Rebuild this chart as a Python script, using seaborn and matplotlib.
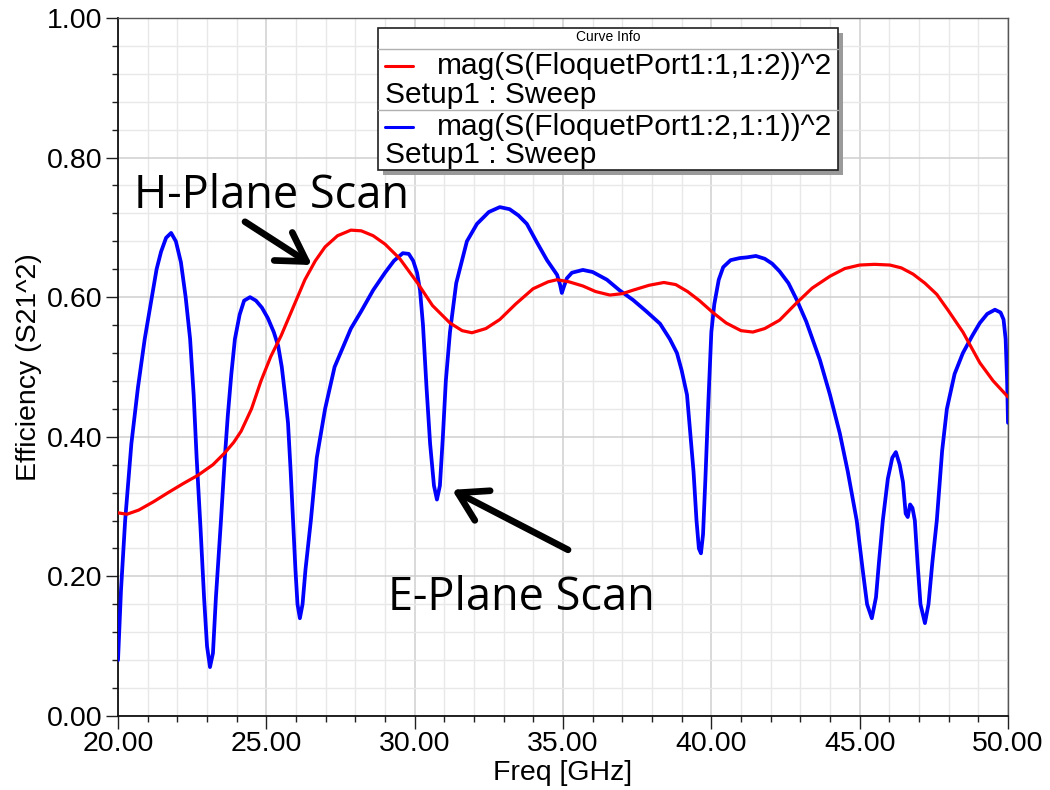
import numpy as np
import pandas as pd
import seaborn as sns
import matplotlib
matplotlib.use("Agg")
import matplotlib.pyplot as plt
from matplotlib.patches import Rectangle
from matplotlib.lines import Line2D
from matplotlib.ticker import MultipleLocator, FormatStrFormatter
import matplotlib.transforms as mtransforms

# E-plane scan: |S(FloquetPort1:2,1:1)|^2 versus frequency
e_freq = [20.00, 20.10, 20.24, 20.45, 20.67, 20.90, 21.10, 21.30, 21.45, 21.62,
          21.79, 21.95, 22.12, 22.28, 22.43, 22.55, 22.65, 22.78, 22.90, 23.00,
          23.10, 23.20, 23.30, 23.47, 23.60, 23.70, 23.82, 23.94, 24.10, 24.25,
          24.45, 24.65, 24.85, 25.05, 25.25, 25.40, 25.52, 25.63, 25.73, 25.82,
          25.90, 25.98, 26.05, 26.13, 26.22, 26.32, 26.50, 26.70, 26.98, 27.30,
          27.60, 27.85, 28.20, 28.60, 29.00, 29.30, 29.60, 29.80, 29.95, 30.08,
          30.18, 30.28, 30.40, 30.52, 30.65, 30.75, 30.85, 30.95, 31.05, 31.19,
          31.40, 31.76, 32.10, 32.50, 32.87, 33.20, 33.50, 33.78, 34.10, 34.46,
          34.80, 34.90, 34.96, 35.03, 35.13, 35.30, 35.67, 36.00, 36.48, 36.90,
          37.36, 37.80, 38.27, 38.60, 38.84, 39.00, 39.18, 39.30, 39.40, 39.50,
          39.58, 39.65, 39.72, 39.80, 39.90, 40.00, 40.10, 40.25, 40.40, 40.65,
          40.96, 41.20, 41.50, 41.80, 42.05, 42.30, 42.60, 42.88, 43.20, 43.66,
          44.00, 44.33, 44.60, 44.90, 45.10, 45.25, 45.41, 45.55, 45.65, 45.78,
          45.95, 46.10, 46.22, 46.35, 46.46, 46.55, 46.62, 46.70, 46.78, 46.86,
          46.95, 47.05, 47.20, 47.32, 47.45, 47.60, 47.78, 47.94, 48.20, 48.48,
          48.80, 49.05, 49.30, 49.56, 49.75, 49.85, 49.92, 49.97, 50.00]
e_eff = [0.080, 0.180, 0.280, 0.390, 0.470, 0.540, 0.590, 0.640, 0.665, 0.685,
         0.692, 0.680, 0.650, 0.600, 0.540, 0.460, 0.370, 0.270, 0.170, 0.100,
         0.070, 0.090, 0.170, 0.280, 0.370, 0.430, 0.490, 0.540, 0.575, 0.595,
         0.600, 0.595, 0.585, 0.570, 0.550, 0.530, 0.500, 0.460, 0.420, 0.350,
         0.280, 0.210, 0.160, 0.140, 0.160, 0.210, 0.280, 0.370, 0.440, 0.500,
         0.530, 0.555, 0.580, 0.610, 0.635, 0.652, 0.663, 0.662, 0.652, 0.635,
         0.610, 0.560, 0.470, 0.390, 0.330, 0.310, 0.330, 0.400, 0.480, 0.550,
         0.620, 0.680, 0.705, 0.722, 0.729, 0.726, 0.717, 0.705, 0.680, 0.653,
         0.632, 0.618, 0.606, 0.615, 0.627, 0.635, 0.639, 0.636, 0.625, 0.610,
         0.596, 0.580, 0.562, 0.540, 0.520, 0.495, 0.460, 0.400, 0.350, 0.280,
         0.240, 0.233, 0.260, 0.340, 0.450, 0.550, 0.590, 0.625, 0.643, 0.653,
         0.656, 0.657, 0.659, 0.655, 0.648, 0.637, 0.620, 0.596, 0.565, 0.510,
         0.460, 0.405, 0.350, 0.280, 0.210, 0.160, 0.140, 0.170, 0.220, 0.280,
         0.340, 0.370, 0.378, 0.360, 0.335, 0.290, 0.285, 0.303, 0.298, 0.280,
         0.220, 0.160, 0.133, 0.160, 0.220, 0.280, 0.380, 0.440, 0.490, 0.520,
         0.545, 0.563, 0.576, 0.582, 0.578, 0.568, 0.540, 0.480, 0.420]

# H-plane scan: |S(FloquetPort1:1,1:2)|^2 versus frequency
h_freq = [20.00, 20.30, 20.70, 21.20, 21.69, 22.20, 22.70, 23.20, 23.60, 23.90,
          24.15, 24.50, 24.82, 25.15, 25.50, 25.90, 26.30, 26.65, 26.98, 27.40,
          27.85, 28.20, 28.60, 29.00, 29.50, 30.10, 30.60, 31.19, 31.60, 31.93,
          32.40, 32.87, 33.40, 33.99, 34.50, 34.80, 35.20, 35.67, 36.10, 36.58,
          37.00, 37.36, 37.90, 38.40, 38.80, 39.20, 39.60, 40.05, 40.50, 41.00,
          41.40, 41.80, 42.30, 42.88, 43.40, 44.00, 44.50, 45.00, 45.50, 46.02,
          46.40, 46.80, 47.20, 47.60, 48.00, 48.48, 49.05, 49.50, 50.00]
h_eff = [0.291, 0.289, 0.295, 0.307, 0.320, 0.333, 0.345, 0.360, 0.377, 0.392,
         0.408, 0.440, 0.480, 0.515, 0.545, 0.585, 0.625, 0.652, 0.672, 0.688,
         0.696, 0.695, 0.688, 0.676, 0.655, 0.620, 0.588, 0.563, 0.552, 0.549,
         0.555, 0.568, 0.590, 0.612, 0.622, 0.625, 0.622, 0.616, 0.608, 0.603,
         0.605, 0.610, 0.617, 0.621, 0.618, 0.608, 0.595, 0.578, 0.563, 0.552,
         0.550, 0.555, 0.567, 0.592, 0.613, 0.630, 0.641, 0.646, 0.647, 0.646,
         0.642, 0.633, 0.620, 0.604, 0.580, 0.550, 0.506, 0.480, 0.457]

curve_names = ["mag(S(FloquetPort1:1,1:2))^2", "mag(S(FloquetPort1:2,1:1))^2"]
setup_name = "Setup1 : Sweep"
x_label = "Freq [GHz]"
y_label = "Efficiency (S21^2)"
x_ticks = [20, 25, 30, 35, 40, 45, 50]
y_ticks = [0.0, 0.2, 0.4, 0.6, 0.8, 1.0]

sns.set_style("white")
plt.rcParams["font.family"] = ["Liberation Sans", "DejaVu Sans"]
plt.rcParams["text.color"] = "black"
plt.rcParams["axes.labelcolor"] = "black"
plt.rcParams["xtick.color"] = "black"
plt.rcParams["ytick.color"] = "black"

fig = plt.figure(figsize=(10.5, 7.9), dpi=100)
ax = fig.add_axes([0.1124, 0.0937, 0.8476, 0.8836])

h_df = pd.DataFrame({"freq": h_freq, "eff": h_eff})
e_df = pd.DataFrame({"freq": e_freq, "eff": e_eff})
sns.lineplot(data=e_df, x="freq", y="eff", color="#0000ff", linewidth=2.7,
             estimator=None, sort=False, ax=ax, zorder=3)
sns.lineplot(data=h_df, x="freq", y="eff", color="#ff0000", linewidth=2.3,
             estimator=None, sort=False, ax=ax, zorder=4)

ax.set_xlim(x_ticks[0], x_ticks[-1])
ax.set_ylim(y_ticks[0], y_ticks[-1])
ax.set_xticks(x_ticks)
ax.set_yticks(y_ticks)
ax.xaxis.set_minor_locator(MultipleLocator(1))
ax.yaxis.set_minor_locator(MultipleLocator(0.04))
ax.xaxis.set_major_formatter(FormatStrFormatter("%.2f"))
ax.yaxis.set_major_formatter(FormatStrFormatter("%.2f"))

ax.grid(which="major", color="#cfcfcf", linewidth=1.1, zorder=0)
ax.grid(which="minor", color="#e8e8e8", linewidth=1.0, zorder=0)
ax.set_axisbelow(True)

ax.tick_params(which="major", direction="out", length=9, width=1.0,
               color="#202020", labelcolor="black", labelsize=20.5, pad=2,
               left=True, bottom=True)
ax.tick_params(which="minor", direction="out", length=4.5, width=1.0,
               color="#202020", left=True, bottom=True)

for side in ["left", "bottom"]:
    ax.spines[side].set_color("#101010")
    ax.spines[side].set_linewidth(1.3)
for side in ["top", "right"]:
    ax.spines[side].set_color("#555555")
    ax.spines[side].set_linewidth(1.0)

ax.set_xlabel(x_label, fontsize=20.5, labelpad=2, color="black")
ax.set_ylabel(y_label, fontsize=20.5, labelpad=4, color="black")

# Scan annotations
note_font = ["Open Sans", "DejaVu Sans"]
ax.text(20.55, 0.7278, "H-Plane Scan", fontsize=32.5, family=note_font,
        color="black", ha="left", va="baseline", zorder=6)
ax.annotate("", xy=(26.54, 0.646), xytext=(24.28, 0.708),
            arrowprops=dict(arrowstyle="->,head_length=1.0,head_width=0.6",
                            lw=4.8, color="black", shrinkA=0, shrinkB=0,
                            mutation_scale=20), zorder=6)
ax.text(29.1, 0.1519, "E-Plane Scan", fontsize=32.5, family=note_font,
        color="black", ha="left", va="baseline", zorder=6)
ax.annotate("", xy=(31.26, 0.324), xytext=(35.17, 0.238),
            arrowprops=dict(arrowstyle="->,head_length=1.0,head_width=0.6",
                            lw=4.8, color="black", shrinkA=0, shrinkB=0,
                            mutation_scale=20), zorder=6)

# Curve info box
bx0, bx1, by0, by1 = 0.2921, 0.8090, 0.7822, 0.9857
shadow_tr = mtransforms.offset_copy(ax.transAxes, fig=fig, x=5, y=-5, units="dots")
ax.add_patch(Rectangle((bx0, by0), bx1 - bx0, by1 - by0, transform=shadow_tr,
                       facecolor="#9a9a9a", edgecolor="none", zorder=7, clip_on=False))
ax.add_patch(Rectangle((bx0, by0), bx1 - bx0, by1 - by0, transform=ax.transAxes,
                       facecolor="white", edgecolor="#202020", linewidth=1.2,
                       zorder=8, clip_on=False))
ax.text((bx0 + bx1) / 2, 0.9728, "Curve Info", transform=ax.transAxes,
        fontsize=10, ha="center", va="center", zorder=9)
for sep_y in [0.9556, 0.8682]:
    ax.add_line(Line2D([bx0, bx1], [sep_y, sep_y], transform=ax.transAxes,
                       color="#b0b0b0", linewidth=1.0, zorder=9))

entry_colors = ["#ff0000", "#0000ff"]
entry_rows = [(0.9312, 0.8897), (0.8438, 0.8037)]
for name, color, (row1, row2) in zip(curve_names, entry_colors, entry_rows):
    ax.add_line(Line2D([0.3, 0.3315], [row1, row1], transform=ax.transAxes,
                       color=color, linewidth=2.2, zorder=9))
    ax.text(0.3584, row1, name, transform=ax.transAxes, fontsize=21.5,
            ha="left", va="center", zorder=9)
    ax.text(0.2995, row2, setup_name, transform=ax.transAxes, fontsize=21.5,
            ha="left", va="center", zorder=9)

fig.savefig("out.png", dpi=100)
